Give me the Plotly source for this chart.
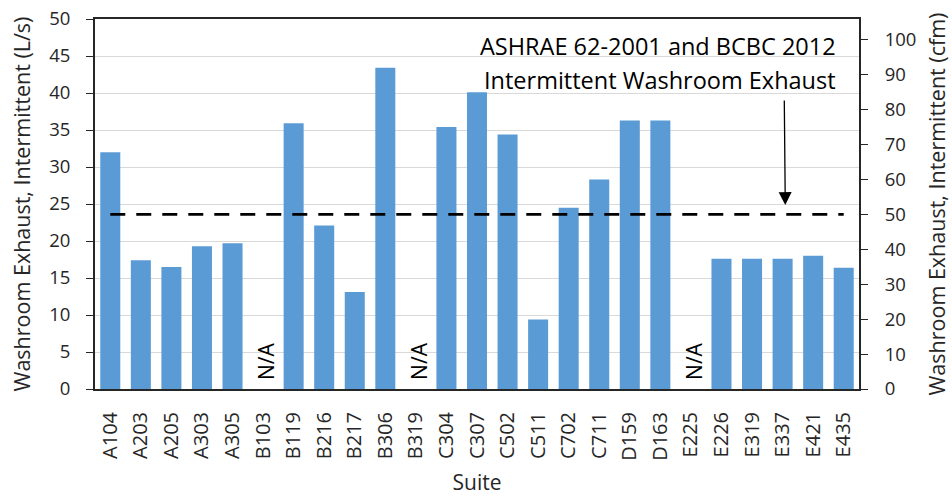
import plotly.graph_objects as go

suites = ["A104", "A203", "A205", "A303", "A305", "B103", "B119", "B216", "B217", "B306",
          "B319", "C304", "C307", "C502", "C511", "C702", "C711", "D159", "D163", "E225",
          "E226", "E319", "E337", "E421", "E435"]
exhaust_ls = [32.0, 17.4, 16.5, 19.3, 19.7, None, 35.9, 22.1, 13.1, 43.4,
              None, 35.4, 40.1, 34.4, 9.4, 24.5, 28.3, 36.3, 36.3, None,
              17.6, 17.6, 17.6, 18.0, 16.4]
requirement_ls = 23.6  # 50 cfm
LS_TO_CFM = 2.11888
left_range = [0, 50]
left_ticks = [0, 5, 10, 15, 20, 25, 30, 35, 40, 45, 50]
right_ticks = [0, 10, 20, 30, 40, 50, 60, 70, 80, 90, 100]

FONT = "Open Sans"
BAR = "#5B9BD5"
AX = "#262626"

fig = go.Figure()
fig.add_trace(go.Bar(x=suites, y=exhaust_ls, marker=dict(color=BAR, line=dict(width=0)),
                     showlegend=False, hoverinfo="x+y"))
fig.add_trace(go.Scatter(x=[suites[0], suites[-1]], y=[requirement_ls, requirement_ls],
                         mode="lines", line=dict(color="black", width=2.8, dash="15px,11px"),
                         showlegend=False))
# invisible trace to activate right axis
fig.add_trace(go.Scatter(x=[suites[0], suites[-1]], y=[0, 0], yaxis="y2", mode="lines",
                         line=dict(width=0), opacity=0, showlegend=False, hoverinfo="skip"))

for s, v in zip(suites, exhaust_ls):
    if v is None:
        fig.add_annotation(x=s, y=0, text="N/A", textangle=-90, showarrow=False,
                           xanchor="center", yanchor="bottom", yshift=7, xshift=3,
                           font=dict(family=FONT, size=21, color="black"))

fig.add_annotation(xref="paper", yref="paper", x=0.9725, y=0.927, text="ASHRAE 62-2001 and BCBC 2012",
                   showarrow=False, xanchor="right", yanchor="middle",
                   font=dict(family=FONT, size=23.5, color="black"))
fig.add_annotation(xref="paper", yref="paper", x=0.9725, y=0.835, text="Intermittent Washroom Exhaust",
                   showarrow=False, xanchor="right", yanchor="middle",
                   font=dict(family=FONT, size=23.5, color="black"))
fig.add_annotation(xref="paper", yref="paper", x=0.9035, y=0.497, ax=-1, ay=-106,
                   text="", showarrow=True, arrowhead=2, arrowsize=2, arrowwidth=1.3,
                   arrowcolor="black")

fig.update_layout(
    width=952, height=496,
    margin=dict(l=95, r=93, t=19, b=107),
    paper_bgcolor="white", plot_bgcolor="white",
    bargap=0.345,
    font=dict(family=FONT, size=18.5, color=AX),
    xaxis=dict(title=dict(text="Suite", font=dict(size=21), standoff=20), tickangle=-90,
               range=[-0.5, len(suites) - 0.5],
               showline=True, linecolor=AX, linewidth=2, mirror=True, ticks="",
               tickfont=dict(size=20), showgrid=False, automargin=False, ticklabelstandoff=13),
    yaxis=dict(title=dict(text="Washroom Exhaust, Intermittent (L/s)", font=dict(size=21.5), standoff=13),
               range=left_range, tickvals=left_ticks, showline=True, linecolor=AX, linewidth=2,
               ticks="outside", ticklen=7, tickcolor=AX, gridcolor="#d9d9d9", gridwidth=1.2,
               zeroline=False, automargin=False, ticklabelstandoff=12),
    yaxis2=dict(title=dict(text="Washroom Exhaust, Intermittent (cfm)", font=dict(size=21.5), standoff=15),
                overlaying="y", side="right", range=[0, left_range[1] * LS_TO_CFM],
                tickvals=right_ticks, showline=True, linecolor=AX, linewidth=2,
                ticks="outside", ticklen=7, tickcolor=AX, showgrid=False, zeroline=False,
                automargin=False, ticklabelstandoff=13),
)

fig.write_html("out.html", config={"displayModeBar": False},
               post_script="document.body.style.margin='0px';")
